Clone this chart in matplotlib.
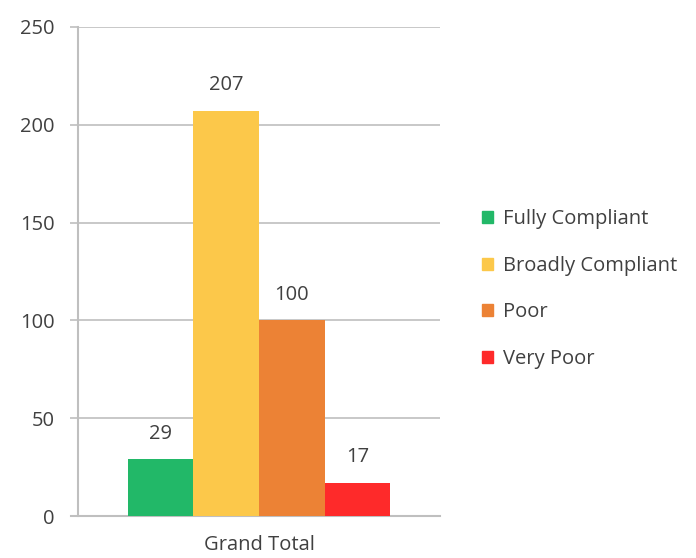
import matplotlib
matplotlib.use("Agg")
import matplotlib.pyplot as plt
from matplotlib.patches import Patch

categories = ["Grand Total"]
series = ["Fully Compliant", "Broadly Compliant", "Poor", "Very Poor"]
values = [29, 207, 100, 17]
colors = ["#22b868", "#fcc84a", "#ec8235", "#fe2a2a"]
yticks = [0, 50, 100, 150, 200, 250]

plt.rcParams['font.family'] = ['Open Sans', 'DejaVu Sans']
txt = "#404040"
grid = "#bfbfbf"
fs = 14.5

fig = plt.figure(figsize=(6.96, 5.58), dpi=100)
ax = fig.add_axes([78/696, 1-516/558, (440-78)/696, (516-27)/558])

w = 0.181
n = len(series)
for i, (s, v, c) in enumerate(zip(series, values, colors)):
    x = (i - (n-1)/2) * w
    ax.bar(x, v, width=w, color=c, label=s, zorder=3)
    ax.text(x, v + 8, str(v), ha="center", va="bottom", fontsize=fs, color=txt)

ax.set_xlim(-0.5, 0.5)
ax.set_ylim(0, 250)
ax.set_yticks(yticks)
ax.set_xticks([0])
ax.set_xticklabels(categories)
ax.yaxis.grid(True, color=grid, linewidth=1.2, zorder=0)
for sp in ["top", "right", "bottom"]:
    ax.spines[sp].set_visible(False)
ax.spines["left"].set_color(grid)
ax.spines["left"].set_linewidth(1.5)
ax.tick_params(axis="y", length=6, color=grid, width=1.2, labelsize=fs, labelcolor=txt, pad=11)
ax.tick_params(axis="x", length=0, labelsize=fs, labelcolor=txt, pad=14)
ax.axhline(0, color=grid, linewidth=1.5, zorder=2, xmin=-0.02, clip_on=False)

handles = [Patch(color=c, label=s) for s, c in zip(series, colors)]
fig.legend(handles=handles, loc="center left", bbox_to_anchor=(0.693, 0.482),
           frameon=False, fontsize=fs, labelcolor=txt, handlelength=0.55,
           handleheight=0.55, handletextpad=0.5, labelspacing=1.32,
           borderaxespad=0, borderpad=0)

fig.savefig("out.png", dpi=100)
